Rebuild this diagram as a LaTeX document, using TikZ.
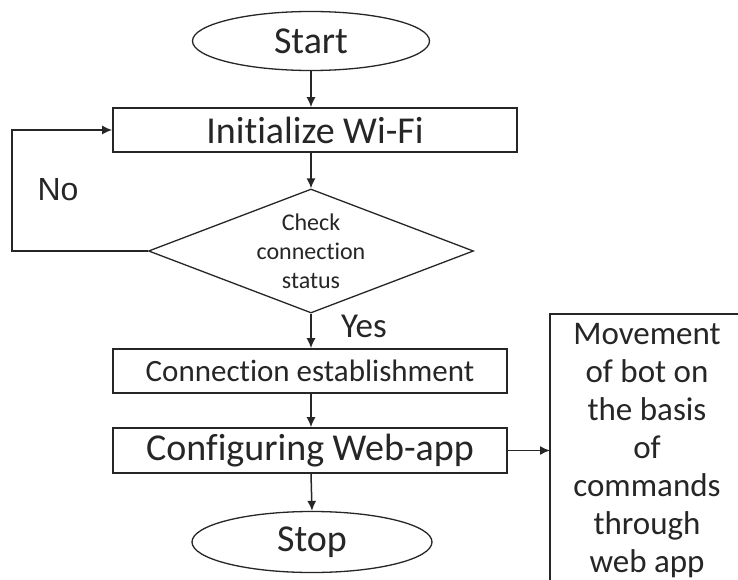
\documentclass[tikz,border=0pt]{standalone}
\usepackage{fontspec}
\setmainfont{Carlito}[Ligatures=NoCommon]
\newfontfamily\arialfont{Liberation Sans}
\usetikzlibrary{shapes.geometric,arrows.meta}

\tikzset{
  flowline/.style={line width=1.5pt, draw=black!85},
  flowarrow/.style={flowline, -{Latex[length=10pt,width=9pt]}},
  terminal/.style={ellipse, draw=black!85, line width=1.3pt, inner sep=0pt},
  procbox/.style={rectangle, draw=black!85, line width=1.6pt, inner sep=0pt},
  decision/.style={diamond, draw=black!85, line width=1.3pt, inner sep=0pt},
  bigtext/.style={font=\fontsize{38}{46}\selectfont, text=black!85},
}

\begin{document}
\begin{tikzpicture}[x=1pt,y=-1pt]
  \fill[white] (0,0) rectangle (738,580);

  % main column
  \node[terminal, minimum width=237pt, minimum height=59pt, bigtext] (start) at (311,41) {Start};
  \node[procbox, minimum width=404pt, minimum height=44pt, bigtext] (init) at (315,130) {Initialize Wi-Fi};
  \node[decision, minimum width=325pt, minimum height=124pt] (check) at (311,251) {};
  \node[align=center, font=\fontsize{24}{29}\selectfont, text=black!85] (checktext) at (311,251)
    {Check\\connection\\status};
  \node[procbox, minimum width=394pt, minimum height=44pt, font=\fontsize{31}{38}\selectfont, text=black!85]
    (conn) at (310,371) {Connection establishment};
  \node[procbox, minimum width=394pt, minimum height=45pt, bigtext] (config) at (310,450.5) {Configuring Web-app};
  \node[terminal, minimum width=240pt, minimum height=61pt, bigtext] (stop) at (312,542) {Stop};

  % side box: only its left and top edges fall inside the page
  \coordinate (movetop) at (550,314);
  \coordinate (moveright) at (738,314);
  \coordinate (movebottom) at (550,580);
  \draw[line width=1.6pt, draw=black!85] (movebottom) -- (movetop) -- (moveright);
  \node[align=center, font=\fontsize{33}{38}\selectfont, text=black!85] (movetext) at (647,451)
    {Movement\\of bot on\\the basis\\of\\commands\\through\\web app};

  % labels
  \node[font=\fontsize{35}{42}\selectfont, text=black!85] (yes) at (364,326) {Yes};
  \node[font=\arialfont\fontsize{32}{38}\selectfont, text=black!85] (no) at (58,190) {No};

  % connectors
  \draw[flowarrow] (start.south) -- (start.south |- init.north);
  \draw[flowarrow] (start.south |- init.south) -- (check.north);
  \draw[flowarrow] (check.south) -- (check.south |- conn.north);
  \draw[flowarrow] (check.south |- conn.south) -- (check.south |- config.north);
  \draw[flowarrow] (check.south |- config.south) -- (stop.north);
  \draw[flowarrow] (config.east) -- (config.east -| movetop);

  \coordinate (loopcorner) at (12,251);
  \draw[flowarrow] (check.west) -- (loopcorner) |- (init.west);

  \pgfresetboundingbox
  \useasboundingbox (0,0) rectangle (738,580);
\end{tikzpicture}
\end{document}
